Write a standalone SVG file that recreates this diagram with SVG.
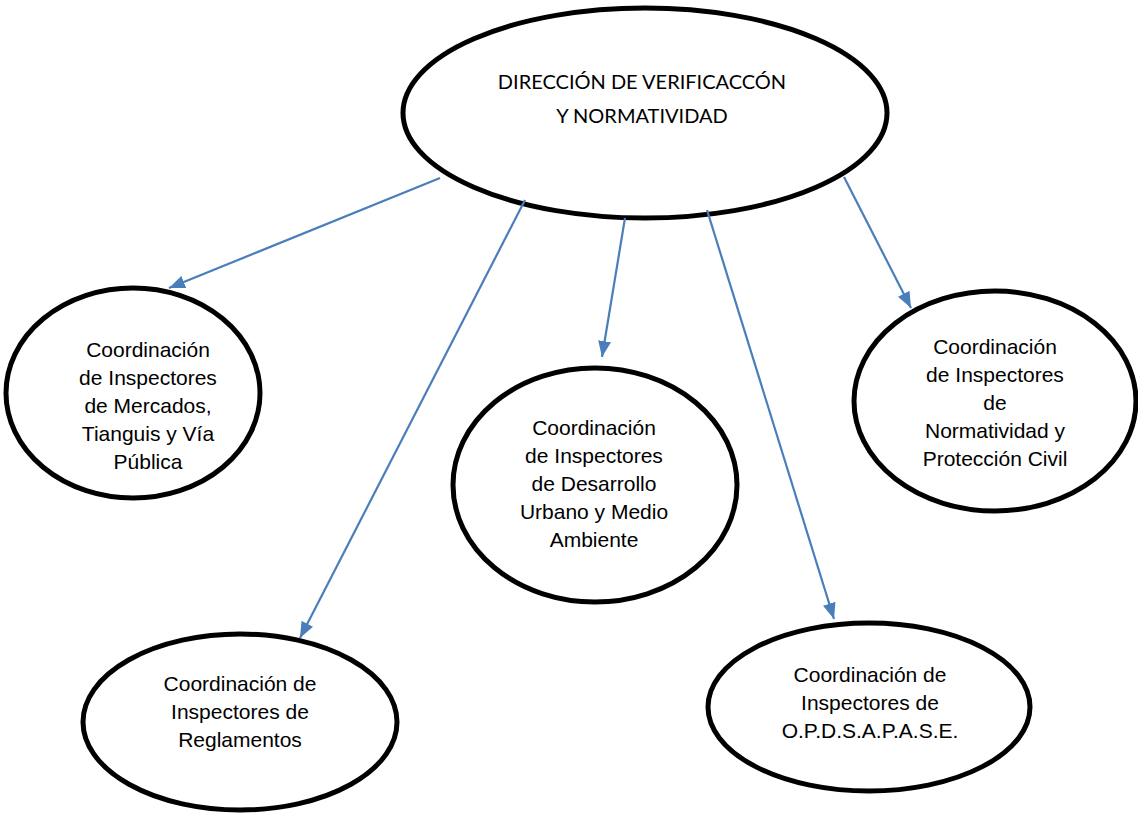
<svg xmlns="http://www.w3.org/2000/svg" width="1138" height="813" viewBox="0 0 1138 813">
<style>
.node ellipse{fill:#fff;stroke:#000;stroke-width:5}
.node text{font-family:"Liberation Sans",Arial,sans-serif;font-size:21px;fill:#000;text-anchor:middle}
#top text{font-family:Lato,"Open Sans",sans-serif;font-size:20px}
.conn line{stroke:#4a7ebb;stroke-width:2.2;fill:none}
</style>
<defs>
<marker id="ah" markerUnits="userSpaceOnUse" markerWidth="17" markerHeight="14" refX="16" refY="7" orient="auto" viewBox="0 0 17 14">
<path d="M0,0.5 L16,7 L0,13.5 Z" fill="#4a7ebb"/>
</marker>
</defs>
<rect width="1138" height="813" fill="#fff"/>
<g class="node" id="top">
<ellipse cx="645" cy="113" rx="242" ry="105"/>
<text x="642" y="89">DIRECCIÓN DE VERIFICACCÓN</text>
<text x="642" y="123">Y NORMATIVIDAD</text>
</g>
<g class="node" id="mercados">
<ellipse cx="133" cy="393" rx="127" ry="105"/>
<text x="148" y="357">Coordinación</text>
<text x="148" y="385">de Inspectores</text>
<text x="148" y="413">de Mercados,</text>
<text x="148" y="441">Tianguis y Vía</text>
<text x="148" y="469">Pública</text>
</g>
<g class="node" id="desarrollo">
<ellipse cx="595" cy="485" rx="142" ry="117"/>
<text x="594" y="435">Coordinación</text>
<text x="594" y="463">de Inspectores</text>
<text x="594" y="491">de Desarrollo</text>
<text x="594" y="519">Urbano y Medio</text>
<text x="594" y="547">Ambiente</text>
</g>
<g class="node" id="normatividad">
<ellipse cx="995" cy="401" rx="141" ry="110"/>
<text x="995" y="354">Coordinación</text>
<text x="995" y="382">de Inspectores</text>
<text x="995" y="410">de</text>
<text x="995" y="438">Normatividad y</text>
<text x="995" y="466">Protección Civil</text>
</g>
<g class="node" id="reglamentos">
<ellipse cx="240" cy="722" rx="157" ry="88"/>
<text x="240" y="691">Coordinación de</text>
<text x="240" y="719">Inspectores de</text>
<text x="240" y="747">Reglamentos</text>
</g>
<g class="node" id="opdsapase">
<ellipse cx="869" cy="707" rx="161" ry="84"/>
<text x="870" y="682">Coordinación de</text>
<text x="870" y="710">Inspectores de</text>
<text x="870" y="738">O.P.D.S.A.P.A.S.E.</text>
</g>
<g class="conn" id="connectors">
<line x1="440" y1="178" x2="169" y2="288" marker-end="url(#ah)"/>
<line x1="525" y1="200" x2="300" y2="638" marker-end="url(#ah)"/>
<line x1="625" y1="218" x2="602" y2="357" marker-end="url(#ah)"/>
<line x1="707" y1="210" x2="834" y2="619" marker-end="url(#ah)"/>
<line x1="844" y1="177" x2="911" y2="308" marker-end="url(#ah)"/>
</g>
</svg>
